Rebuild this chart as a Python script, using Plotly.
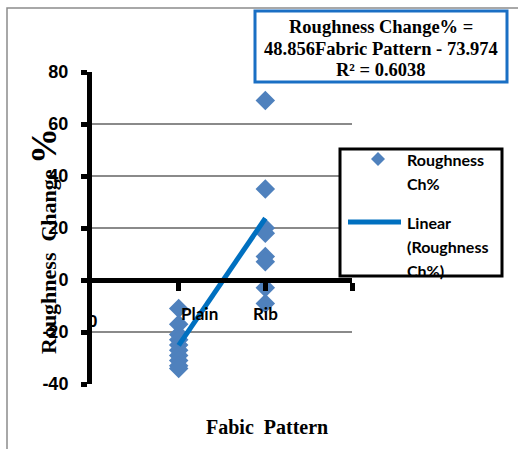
import plotly.graph_objects as go

# ---- data ----
plain_x = [1] * 10
plain_vals = [-11, -17, -21, -23, -25, -27, -29, -31, -33, -34]
rib_x = [2] * 8
rib_vals = [69, 35, 20, 18, 9, 7, -3, -9]
trend_slope = 48.856
trend_intercept = -73.974
trend_x = [1, 2]
y_ticks = [-40, -20, 0, 20, 40, 60, 80]
y_tick_labels = ["-40", "-20", "0", "20", "40", "60", "80"]
x_cat_pos = [0, 1, 2]
x_cat_labels = ["0", "Plain", "Rib"]

W, H = 518, 449
L, R, T, B = 92, 352, 72, 384  # plot area in pixels


def px(x):
    return (x - L) / (R - L)


def py(y):
    return (B - y) / (B - T)


pts_x = plain_x + rib_x
pts_y = plain_vals + rib_vals
trend_y = [trend_slope * x + trend_intercept for x in trend_x]

fig = go.Figure()
fig.add_trace(go.Scatter(
    x=pts_x, y=pts_y, mode="markers",
    marker=dict(symbol="diamond", size=15, color="#4f81bd", line=dict(width=0)),
    name="Roughness Ch%", showlegend=False, cliponaxis=False,
))
fig.add_trace(go.Scatter(
    x=trend_x, y=trend_y, mode="lines",
    line=dict(color="#0070c0", width=5),
    name="Linear (Roughness Ch%)", showlegend=False,
))

serif = "Liberation Serif, Times New Roman, serif"
sans = "Liberation Sans, Arial, sans-serif"
calib = "Lato, Open Sans, sans-serif"

fig.update_layout(
    width=W, height=H,
    margin=dict(l=L, r=W - R, t=T, b=H - B),
    paper_bgcolor="white", plot_bgcolor="white",
    showlegend=False,
    xaxis=dict(
        range=[0, 3], showgrid=False, zeroline=False,
        anchor="free", position=1 / 3,
        showline=True, linecolor="black", linewidth=5,
        tickmode="array", tickvals=[1, 2, 3], ticks="outside",
        ticklen=8, tickwidth=5, tickcolor="black",
        showticklabels=False,
    ),
    yaxis=dict(
        range=[-40, 80], tickmode="array", tickvals=y_ticks, ticktext=y_tick_labels,
        showgrid=True, gridcolor="#8a8a8a", gridwidth=1.5,
        zeroline=False,
        showline=True, linecolor="black", linewidth=5,
        ticks="outside", ticklen=6, tickwidth=5, tickcolor="black",
        ticklabelstandoff=9,
        tickfont=dict(family=sans, size=18, color="black", weight="bold"),
    ),
)

shapes = []
# outer chart frame
shapes.append(dict(type="rect", xref="paper", yref="paper",
                   x0=px(7), x1=px(530), y0=py(8), y1=py(470),
                   line=dict(color="#8c8c8c", width=1.5), layer="below"))
# equation box
shapes.append(dict(type="rect", xref="paper", yref="paper",
                   x0=px(255), x1=px(507), y0=py(11), y1=py(82),
                   line=dict(color="#1a6fc4", width=3), fillcolor="white"))
# legend box
shapes.append(dict(type="rect", xref="paper", yref="paper",
                   x0=px(340), x1=px(502), y0=py(149), y1=py(276),
                   line=dict(color="black", width=3), fillcolor="white"))
# legend line sample
shapes.append(dict(type="line", xref="paper", yref="paper",
                   x0=px(348), x1=px(401), y0=py(222), y1=py(222),
                   line=dict(color="#0070c0", width=5)))
# legend diamond sample
cx, cy, r = 378, 159, 7
shapes.append(dict(type="path", xref="paper", yref="paper",
                   path=f"M {px(cx)},{py(cy - r)} L {px(cx + r)},{py(cy)} L {px(cx)},{py(cy + r)} L {px(cx - r)},{py(cy)} Z",
                   fillcolor="#4f81bd", line=dict(width=0)))
fig.update_layout(shapes=shapes)

ann = []


def text_at(x, y, text, family, size, xanchor="center", angle=0):
    ann.append(dict(xref="paper", yref="paper", x=px(x), y=py(y), text=text,
                    showarrow=False, xanchor=xanchor, yanchor="middle",
                    textangle=angle, align="left",
                    font=dict(family=family, size=size, color="black")))


# equation text (one line each to match spacing)
eq_lines = ["Roughness Change% =", "48.856Fabric Pattern - 73.974", "R² = 0.6038"]
for yy, line in zip([27, 49, 70], eq_lines):
    text_at(381, yy, f"<b>{line}</b>", serif, 18.5)
# legend text
for yy, line in zip([159, 183], ["Roughness", "Ch%"]):
    text_at(405, yy, f"<b>{line}</b>", calib, 16, xanchor="left")
for yy, line in zip([222, 246, 270], ["Linear", "(Roughness", "Ch%)"]):
    text_at(405, yy, f"<b>{line}</b>", calib, 16, xanchor="left")
# x category labels
for pos, lab in zip(x_cat_pos, x_cat_labels):
    ann.append(dict(x=pos, y=-13 if lab != "0" else -16, xref="x", yref="y",
                    text=f"<b>{lab}</b>", showarrow=False,
                    xanchor="left" if lab == "Plain" else "center", yanchor="middle",
                    font=dict(family=calib if lab != "0" else sans, size=17, color="black")))
# axis titles
text_at(267, 427, "<b>Fabic  Pattern</b>", serif, 20)
text_at(44, 241, "<b>Roughness  Change <span style='font-size:36px'>%</span></b>",
        serif, 22, angle=-90)
fig.update_layout(annotations=ann)

fig.write_html("out.html")
